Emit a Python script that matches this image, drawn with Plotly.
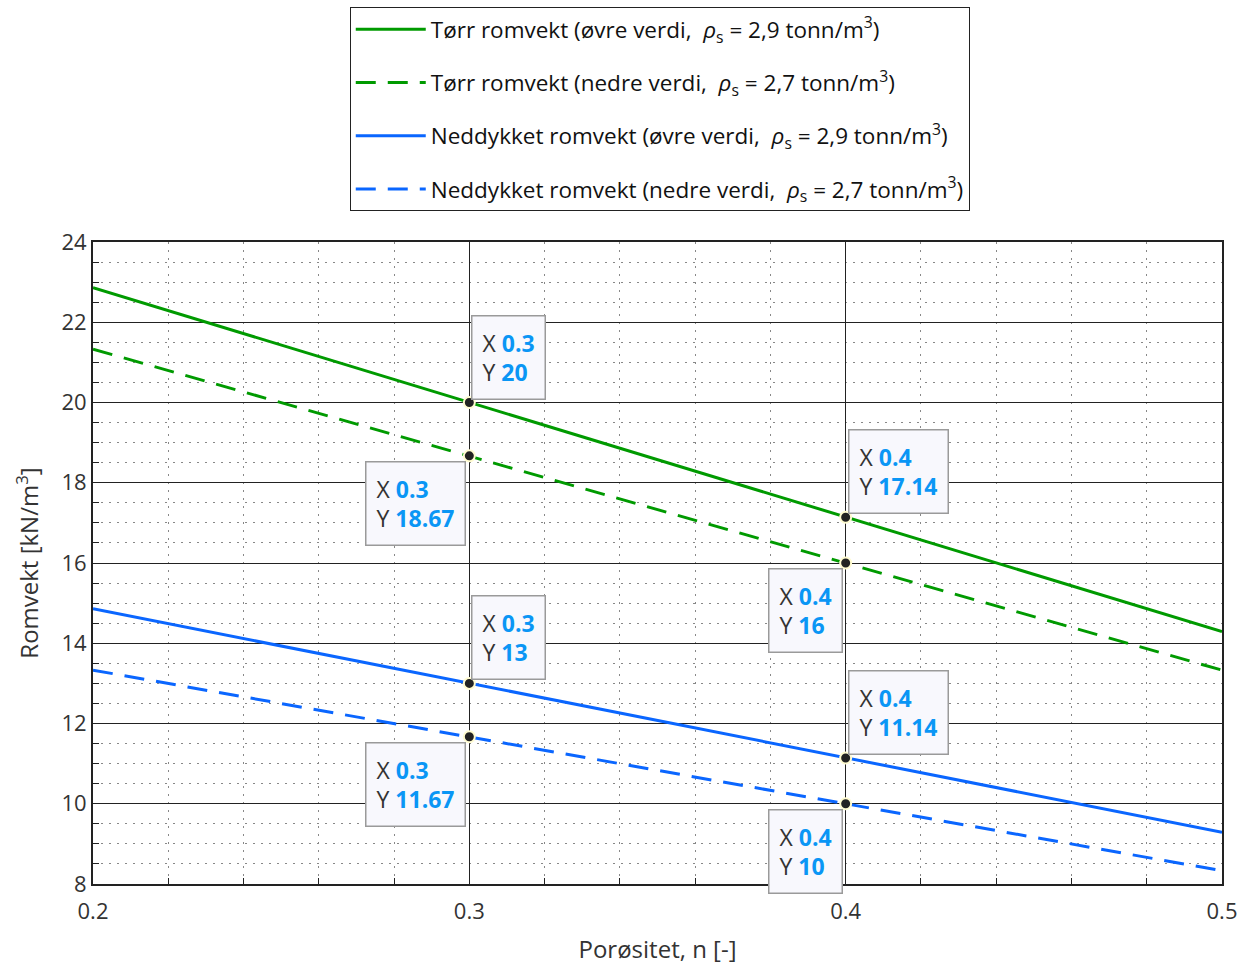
import plotly.graph_objects as go

# Porosity values (x) and unit weights
porositet = [0.2, 0.3, 0.4, 0.5]
torr_ovre = [22.86, 20.0, 17.14, 14.29]
torr_nedre = [21.33, 18.67, 16.0, 13.33]
neddykket_ovre = [14.86, 13.0, 11.14, 9.29]
neddykket_nedre = [13.33, 11.67, 10.0, 8.33]

navn = [
    "Tørr romvekt (øvre verdi,  <i>ρ</i><sub>s</sub> = 2,9 tonn/m<sup>3</sup>)",
    "Tørr romvekt (nedre verdi,  <i>ρ</i><sub>s</sub> = 2,7 tonn/m<sup>3</sup>)",
    "Neddykket romvekt (øvre verdi,  <i>ρ</i><sub>s</sub> = 2,9 tonn/m<sup>3</sup>)",
    "Neddykket romvekt (nedre verdi,  <i>ρ</i><sub>s</sub> = 2,7 tonn/m<sup>3</sup>)",
]

# Data tips: (x, y, placement)
tips_x = [0.3, 0.3, 0.4, 0.4, 0.3, 0.3, 0.4, 0.4]
tips_y = [20.0, 18.67, 17.14, 16.0, 13.0, 11.67, 11.14, 10.0]
tips_pos = ["ur", "ll", "ur", "ll", "ur", "ll", "ur", "ll"]

GREEN = "#009a00"
BLUE = "#0a66ff"
FONT = "Open Sans"

fig = go.Figure()
series = [torr_ovre, torr_nedre, neddykket_ovre, neddykket_nedre]
colors = [GREEN, GREEN, BLUE, BLUE]
dashes = ["solid", "20px,12px", "solid", "20px,12px"]
for i, (ys, c, d, n) in enumerate(zip(series, colors, dashes, navn)):
    fig.add_trace(go.Scatter(x=porositet, y=ys, mode="lines", name=n,
                             legendgroup=f"g{i}",
                             line=dict(color=c, width=3, dash=d)))

fig.add_trace(go.Scatter(x=tips_x, y=tips_y, mode="markers", showlegend=False,
                         marker=dict(color="#222222", size=11,
                                     line=dict(color="#fffbd0", width=2))))

for x, y, p in zip(tips_x, tips_y, tips_pos):
    ys = f"{y:g}"
    txt = (f"X <b><span style='color:#0a96f5'>{x:g}</span></b><br>"
           f"Y <b><span style='color:#0a96f5'>{ys}</span></b>")
    if p == "ur":
        xa, ya, xs, ysft = "left", "bottom", 2, 3
    else:
        xa, ya, xs, ysft = "right", "top", -3, -5
    fig.add_annotation(x=x, y=y, text=txt, showarrow=False, xanchor=xa, yanchor=ya,
                       xshift=xs, yshift=ysft, align="left",
                       font=dict(family=FONT, size=23, color="#333333"),
                       bgcolor="#f8f8fd", bordercolor="#9a9a9a", borderwidth=1.5,
                       borderpad=10)

fig.update_layout(
    width=1244, height=965,
    margin=dict(l=93, r=22, t=242, b=81, autoexpand=False),
    paper_bgcolor="white", plot_bgcolor="white",
    font=dict(family=FONT, size=22, color="#222222"),
    legend=dict(x=0.502, y=1 - 7 / 965, yref="container", xanchor="center", yanchor="top",
                bgcolor="white", bordercolor="#222222", borderwidth=1,
                font=dict(family=FONT, size=22.5, color="#111111"),
                itemwidth=70, tracegroupgap=21),
    xaxis=dict(range=[0.2, 0.5], dtick=0.1, tick0=0.2, showgrid=True,
               gridcolor="#222222", gridwidth=1.4, zeroline=False,
               showline=True, linecolor="#222222", linewidth=2, mirror=True,
               ticks="inside", ticklen=0, tickfont=dict(size=22, color="#333333"),
               ticklabelstandoff=7,
               title=dict(text="Porøsitet, n [-]", font=dict(size=24, color="#333333"),
                          standoff=18),
               minor=dict(dtick=0.02, showgrid=True, gridcolor="#888888",
                          griddash="2px,6px", gridwidth=1.2, ticks="inside", ticklen=6,
                          tickcolor="#222222")),
    yaxis=dict(range=[8, 24], dtick=2, showgrid=True,
               gridcolor="#222222", gridwidth=1.4, zeroline=False,
               showline=True, linecolor="#222222", linewidth=2, mirror=True,
               ticks="inside", ticklen=0, tickfont=dict(size=22, color="#333333"),
               title=dict(text="Romvekt [kN/m<sup>3</sup>]", font=dict(size=24, color="#333333"),
                          standoff=16),
               minor=dict(dtick=0.5, showgrid=True, gridcolor="#888888",
                          griddash="2px,6px", gridwidth=1.2, ticks="inside", ticklen=6,
                          tickcolor="#222222")),
)

fig.write_html("out.html")
